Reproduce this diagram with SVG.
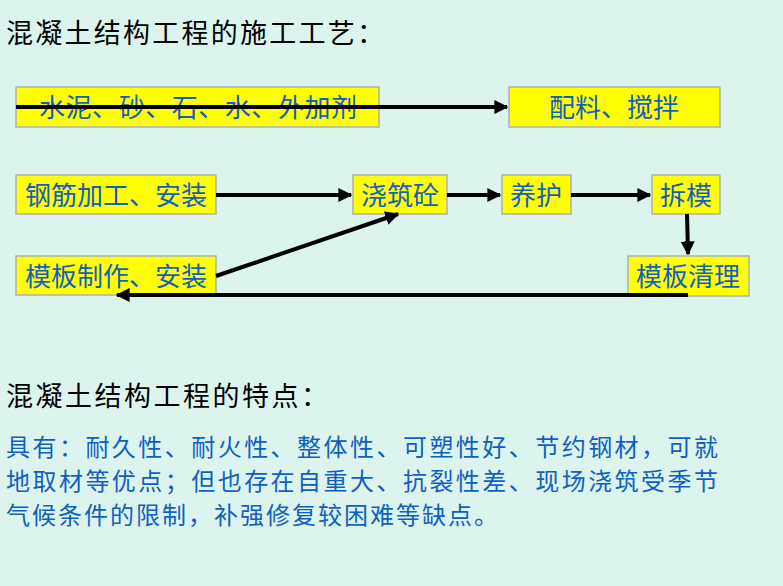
<svg xmlns="http://www.w3.org/2000/svg" width="783" height="586" viewBox="0 0 783 586">
<defs>
<style>
.t{font-family:"Liberation Serif","Noto Sans CJK SC",serif;}
.h{font-size:27px;fill:#000;}
.n rect{fill:#ffff00;stroke:#b0b0b0;stroke-width:1.5;}
.n text{font-size:26px;fill:#1060c0;text-anchor:middle;}
.p{font-size:24px;fill:#1060c0;}
.c line{stroke:#000;stroke-width:4;marker-end:url(#a);}
</style>
<marker id="a" viewBox="0 0 10 10" refX="9" refY="5" markerWidth="3.5" markerHeight="3.5" orient="auto" markerUnits="strokeWidth"><path d="M0,0L10,5L0,10z" fill="#000"/></marker>
</defs>
<rect width="783" height="586" fill="#dcf4ee"/>
<text class="t h" x="6" y="43" textLength="378" lengthAdjust="spacing">混凝土结构工程的施工工艺：</text>
<g id="n1" class="n t"><rect x="16" y="87" width="363" height="40"/><text x="198" y="117" textLength="318" lengthAdjust="spacing">水泥、砂、石、水、外加剂</text></g>
<g id="n2" class="n t"><rect x="509" y="87" width="211" height="40"/><text x="614" y="117">配料、搅拌</text></g>
<g id="n3" class="n t"><rect x="16" y="175" width="200" height="39"/><text x="116" y="205">钢筋加工、安装</text></g>
<g id="n4" class="n t"><rect x="353" y="175" width="94" height="39"/><text x="400" y="205">浇筑砼</text></g>
<g id="n5" class="n t"><rect x="502" y="175" width="69" height="39"/><text x="536" y="205">养护</text></g>
<g id="n6" class="n t"><rect x="652" y="175" width="68" height="39"/><text x="686" y="205">拆模</text></g>
<g id="n7" class="n t"><rect x="16" y="256" width="200" height="39"/><text x="116" y="286">模板制作、安装</text></g>
<g id="n8" class="n t"><rect x="628" y="256" width="121" height="40"/><text x="688" y="286">模板清理</text></g>
<g id="edges" class="c">
<line x1="16" y1="107" x2="507" y2="107"/>
<line x1="216" y1="195" x2="351" y2="195"/>
<line x1="447" y1="195" x2="500" y2="195"/>
<line x1="571" y1="195" x2="650" y2="195"/>
<line x1="687" y1="214" x2="688" y2="254"/>
<line x1="216" y1="276" x2="398" y2="214"/>
<line x1="688" y1="295" x2="117" y2="295"/>
</g>
<text class="t h" x="6" y="406" textLength="322" lengthAdjust="spacing">混凝土结构工程的特点：</text>
<text class="t p" x="6" y="456" textLength="712" lengthAdjust="spacing">具有：耐久性、耐火性、整体性、可塑性好、节约钢材，可就</text>
<text class="t p" x="6" y="490" textLength="712" lengthAdjust="spacing">地取材等优点；但也存在自重大、抗裂性差、现场浇筑受季节</text>
<text class="t p" x="6" y="524" textLength="492" lengthAdjust="spacing">气候条件的限制，补强修复较困难等缺点。</text>
</svg>
